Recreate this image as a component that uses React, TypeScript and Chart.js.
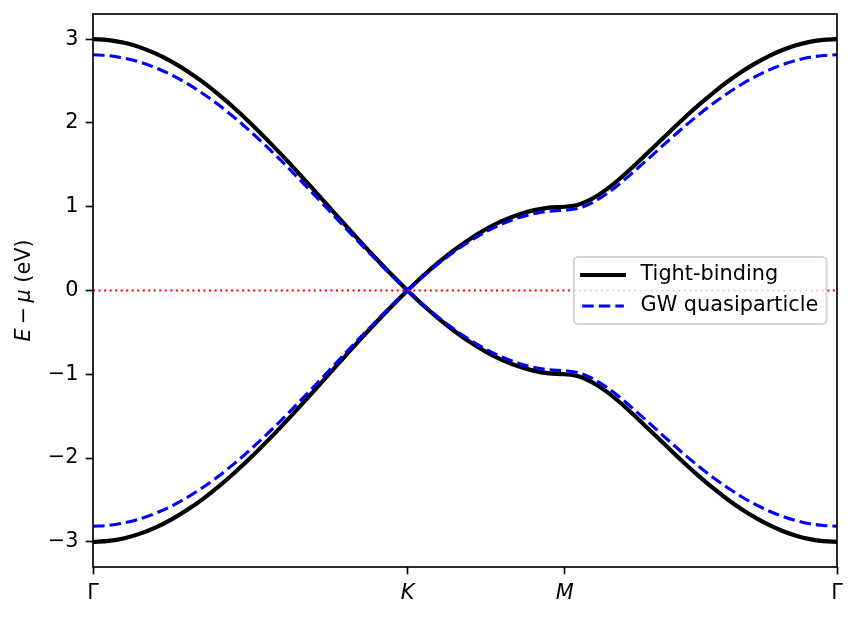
import { useEffect, useRef } from 'react';
import { Chart, registerables } from 'chart.js';

Chart.register(...registerables);

// distance along the path Γ–K–M–Γ, with |ΓK| = 1
const PATH_POS = [
  0, 0.05, 0.1, 0.15, 0.2, 0.25, 0.3, 0.35, 0.4, 0.45, 0.5, 0.55, 0.6, 0.65, 0.7, 0.75, 0.8, 0.85, 0.9, 0.95, 1.0,
  1.05, 1.1, 1.15, 1.2, 1.25, 1.3, 1.35, 1.4, 1.45, 1.5,
  1.5433, 1.5866, 1.6299, 1.6732, 1.7165, 1.7598, 1.8031, 1.8464, 1.8897, 1.933, 1.9763, 2.0196, 2.0629, 2.1062, 2.1495,
  2.1928, 2.2361, 2.2794, 2.3227, 2.366,
];
const PATH_END = 2.366;
const K_INDEX = 20; // index of the K point in PATH_POS
const TICK_POS = [0, 1, 1.5, 2.366];
const TICK_LABELS = ['Γ', 'K', 'M', 'Γ'];
const ITALIC_TICKS = [false, true, true, false];
const Y_TICKS = [-3, -2, -1, 0, 1, 2, 3];

const TB_UPPER = [
  3.0, 2.989, 2.956, 2.902, 2.827, 2.732, 2.618, 2.486, 2.338, 2.176, 2.0, 1.813, 1.618, 1.416, 1.209, 1.0, 0.791, 0.584, 0.382, 0.187, 0.0,
  0.176, 0.338, 0.486, 0.618, 0.732, 0.827, 0.902, 0.956, 0.989, 1.0,
  1.024, 1.094, 1.198, 1.328, 1.474, 1.628, 1.784, 1.94, 2.092, 2.236, 2.372, 2.497, 2.611, 2.711, 2.798, 2.87, 2.926, 2.967, 2.992, 3.0,
];
const TB_LOWER = [
  -3.0, -2.989, -2.956, -2.902, -2.827, -2.732, -2.618, -2.486, -2.338, -2.176, -2.0, -1.813, -1.618, -1.416, -1.209, -1.0, -0.791, -0.584, -0.382, -0.187, 0.0,
  -0.176, -0.338, -0.486, -0.618, -0.732, -0.827, -0.902, -0.956, -0.989, -1.0,
  -1.024, -1.094, -1.198, -1.328, -1.474, -1.628, -1.784, -1.94, -2.092, -2.236, -2.372, -2.497, -2.611, -2.711, -2.798, -2.87, -2.926, -2.967, -2.992, -3.0,
];
const GW_UPPER = [
  2.813, 2.803, 2.773, 2.725, 2.657, 2.572, 2.468, 2.348, 2.213, 2.063, 1.9, 1.726, 1.543, 1.352, 1.156, 0.958, 0.758, 0.56, 0.367, 0.179, 0.0,
  0.169, 0.325, 0.467, 0.593, 0.702, 0.793, 0.864, 0.916, 0.947, 0.958,
  0.981, 1.047, 1.146, 1.269, 1.407, 1.552, 1.699, 1.844, 1.985, 2.119, 2.244, 2.358, 2.462, 2.553, 2.631, 2.696, 2.747, 2.783, 2.805, 2.813,
];
const GW_LOWER = [
  -2.813, -2.803, -2.773, -2.725, -2.657, -2.572, -2.468, -2.348, -2.213, -2.063, -1.9, -1.726, -1.543, -1.352, -1.156, -0.958, -0.758, -0.56, -0.367, -0.179, 0.0,
  -0.169, -0.325, -0.467, -0.593, -0.702, -0.793, -0.864, -0.916, -0.947, -0.958,
  -0.981, -1.047, -1.146, -1.269, -1.407, -1.552, -1.699, -1.844, -1.985, -2.119, -2.244, -2.358, -2.462, -2.553, -2.631, -2.696, -2.747, -2.783, -2.805, -2.813,
];
const SERIES_LABELS = ['Tight-binding', 'GW quasiparticle'];

const PT = 150 / 72;
const FONT = 'DejaVu Sans';
const FS = 10 * PT;
const BLUE_DASH = [5.55 * PT, 2.4 * PT];

const toPoints = (ys: number[], from: number, to: number) =>
  ys.slice(from, to + 1).map((y, i) => ({ x: PATH_POS[from + i], y }));

// split each band at K so the Dirac cone keeps its sharp tip
const bandSets = (ys: number[], style: any) => [
  { ...style, data: toPoints(ys, 0, K_INDEX) },
  { ...style, data: toPoints(ys, K_INDEX, ys.length - 1) },
];

const decorPlugin = {
  id: 'decor',
  afterDraw(chart: any) {
    const { ctx, chartArea: a } = chart;
    ctx.save();

    // axes frame
    ctx.strokeStyle = '#000';
    ctx.lineWidth = 0.8 * PT;
    ctx.setLineDash([]);
    ctx.strokeRect(a.left, a.top, a.right - a.left, a.bottom - a.top);

    // y title: E − μ (eV)
    const parts = [
      { t: 'E', it: true, gap: 0.2 * FS },
      { t: '−', it: false, gap: 0.2 * FS },
      { t: 'μ', it: true, gap: 0 },
      { t: ' (eV)', it: false, gap: 0 },
    ];
    const fontOf = (it: boolean) => `${it ? 'italic ' : ''}${FS}px "${FONT}"`;
    let total = 0;
    for (const p of parts) {
      ctx.font = fontOf(p.it);
      total += ctx.measureText(p.t).width + p.gap;
    }
    ctx.save();
    ctx.translate(25, (a.top + a.bottom) / 2);
    ctx.rotate(-Math.PI / 2);
    ctx.fillStyle = '#000';
    ctx.textBaseline = 'middle';
    ctx.textAlign = 'left';
    let x = -total / 2;
    for (const p of parts) {
      ctx.font = fontOf(p.it);
      ctx.fillText(p.t, x, 0);
      x += ctx.measureText(p.t).width + p.gap;
    }
    ctx.restore();

    // legend box
    ctx.font = `${FS}px "${FONT}"`;
    const textW = Math.max(...SERIES_LABELS.map((l) => ctx.measureText(l).width));
    const pad = 0.4 * FS;
    const handle = 2 * FS;
    const hgap = 0.8 * FS;
    const boxW = pad + handle + hgap + textW + pad;
    const boxH = 67;
    const right = a.right - 0.5 * FS;
    const left = right - boxW;
    const cy = (a.top + a.bottom) / 2;
    const top = cy - boxH / 2;
    ctx.beginPath();
    ctx.roundRect(left, top, boxW, boxH, 0.2 * FS);
    ctx.fillStyle = 'rgba(255,255,255,0.8)';
    ctx.fill();
    ctx.strokeStyle = 'rgba(204,204,204,0.8)';
    ctx.lineWidth = 1 * PT;
    ctx.stroke();

    const rows = [
      { y: cy - 15.5, color: '#000000', w: 2 * PT, dash: [] as number[], cap: 'square' },
      { y: cy + 15.5, color: '#0000ff', w: 1.5 * PT, dash: BLUE_DASH, cap: 'butt' },
    ];
    rows.forEach((r, i) => {
      ctx.beginPath();
      ctx.strokeStyle = r.color;
      ctx.lineWidth = r.w;
      ctx.lineCap = r.cap;
      ctx.setLineDash(r.dash);
      ctx.moveTo(left + pad, r.y);
      ctx.lineTo(left + pad + handle, r.y);
      ctx.stroke();
      ctx.setLineDash([]);
      ctx.fillStyle = '#000';
      ctx.textBaseline = 'middle';
      ctx.textAlign = 'left';
      ctx.fillText(SERIES_LABELS[i], left + pad + handle + hgap, r.y);
    });

    ctx.restore();
  },
};

export default function App() {
  const canvasRef = useRef<HTMLCanvasElement | null>(null);

  useEffect(() => {
    if (!canvasRef.current) return;
    const black = { borderColor: '#000000', borderWidth: 2 * PT, order: 2 };
    const blue = { borderColor: '#0000ff', borderWidth: 1.5 * PT, borderDash: BLUE_DASH, order: 1 };
    const chart = new Chart(canvasRef.current, {
      type: 'line',
      data: {
        datasets: [
          { data: [{ x: 0, y: 0 }, { x: PATH_END, y: 0 }], borderColor: '#ff0000', borderWidth: 1 * PT, borderDash: [1 * PT, 1.65 * PT], order: 0 },
          ...bandSets(GW_UPPER, blue),
          ...bandSets(GW_LOWER, blue),
          ...bandSets(TB_UPPER, black),
          ...bandSets(TB_LOWER, black),
        ],
      },
      options: {
        animation: false,
        responsive: false,
        parsing: false,
        elements: { point: { radius: 0 }, line: { cubicInterpolationMode: 'monotone', fill: false } },
        layout: { padding: { top: 14, right: 21, left: 0, bottom: 0 } },
        plugins: { legend: { display: false }, tooltip: { enabled: false } },
        scales: {
          x: {
            type: 'linear',
            min: 0,
            max: PATH_END,
            afterBuildTicks: (s: any) => {
              s.ticks = TICK_POS.map((v) => ({ value: v }));
            },
            afterFit: (s: any) => {
              s.height = 51;
              s.paddingLeft = 0;
              s.paddingRight = 0;
            },
            ticks: {
              autoSkip: false,
              maxRotation: 0,
              padding: 3.5 * PT,
              color: '#000',
              font: (c: any) => ({ family: FONT, size: FS, style: ITALIC_TICKS[c.index] ? 'italic' : 'normal' }),
              callback: (_v: any, i: number) => TICK_LABELS[i],
            },
            grid: { drawOnChartArea: false, tickLength: 3.5 * PT, tickColor: '#000', tickWidth: 0.8 * PT, color: '#000' },
            border: { display: false },
          },
          y: {
            type: 'linear',
            min: -3.3,
            max: 3.3,
            afterBuildTicks: (s: any) => {
              s.ticks = Y_TICKS.map((v) => ({ value: v }));
            },
            afterFit: (s: any) => {
              s.width = 93;
              s.paddingTop = 0;
              s.paddingBottom = 0;
            },
            ticks: {
              padding: 3.5 * PT,
              color: '#000',
              font: { family: FONT, size: FS },
              callback: (v: any) => (v < 0 ? '−' + Math.abs(v) : String(v)),
            },
            grid: { drawOnChartArea: false, tickLength: 3.5 * PT, tickColor: '#000', tickWidth: 0.8 * PT, color: '#000' },
            border: { display: false },
          },
        },
      },
      plugins: [decorPlugin],
    } as any);
    return () => chart.destroy();
  }, []);

  return (
    <div style={{ position: 'absolute', left: 0, top: 0, width: 858, height: 618, background: '#fff' }}>
      <canvas ref={canvasRef} width={858} height={618} />
    </div>
  );
}
